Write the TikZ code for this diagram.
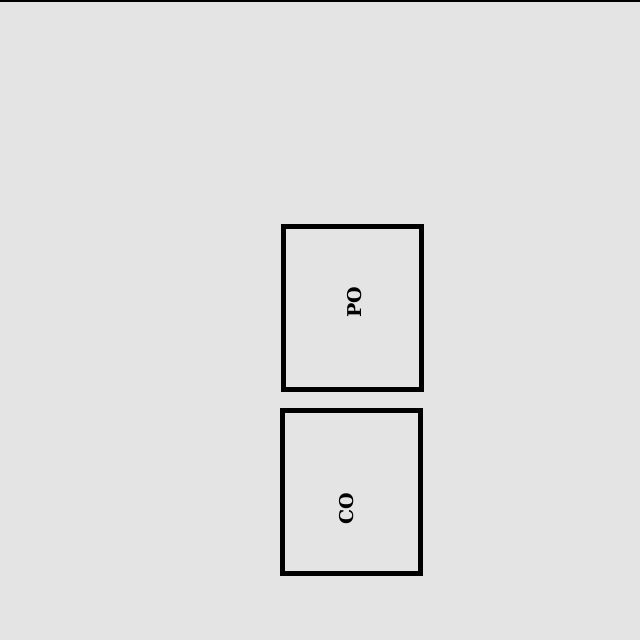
\documentclass[tikz,border=0pt]{standalone}
\usepackage{fontspec}
\setmainfont{DejaVu Serif}
\definecolor{bggray}{RGB}{228,228,228}
\tikzset{
  unitbox/.style={draw, line width=5pt, minimum width=138pt, minimum height=163pt, inner sep=0pt},
  unitlabel/.style={rotate=90, font=\fontsize{19}{19}\selectfont\bfseries, inner sep=0pt}
}
\begin{document}
\begin{tikzpicture}[x=1pt,y=-1pt]
    \fill[bggray] (0,0) rectangle (640,640);
    \useasboundingbox (0,0) rectangle (640,640);
    \draw[line width=1.5pt] (0,0.75)--(640,0.75);
    \node[unitbox] (po) at (352.5,307.5) {};
    \node[unitbox] (co) at (351.25,492.25) {};
    \node[unitlabel] (polabel) at (355,302) {PO};
    \node[unitlabel] (colabel) at (347,508.5) {CO};
  \end{tikzpicture}
\end{document}
